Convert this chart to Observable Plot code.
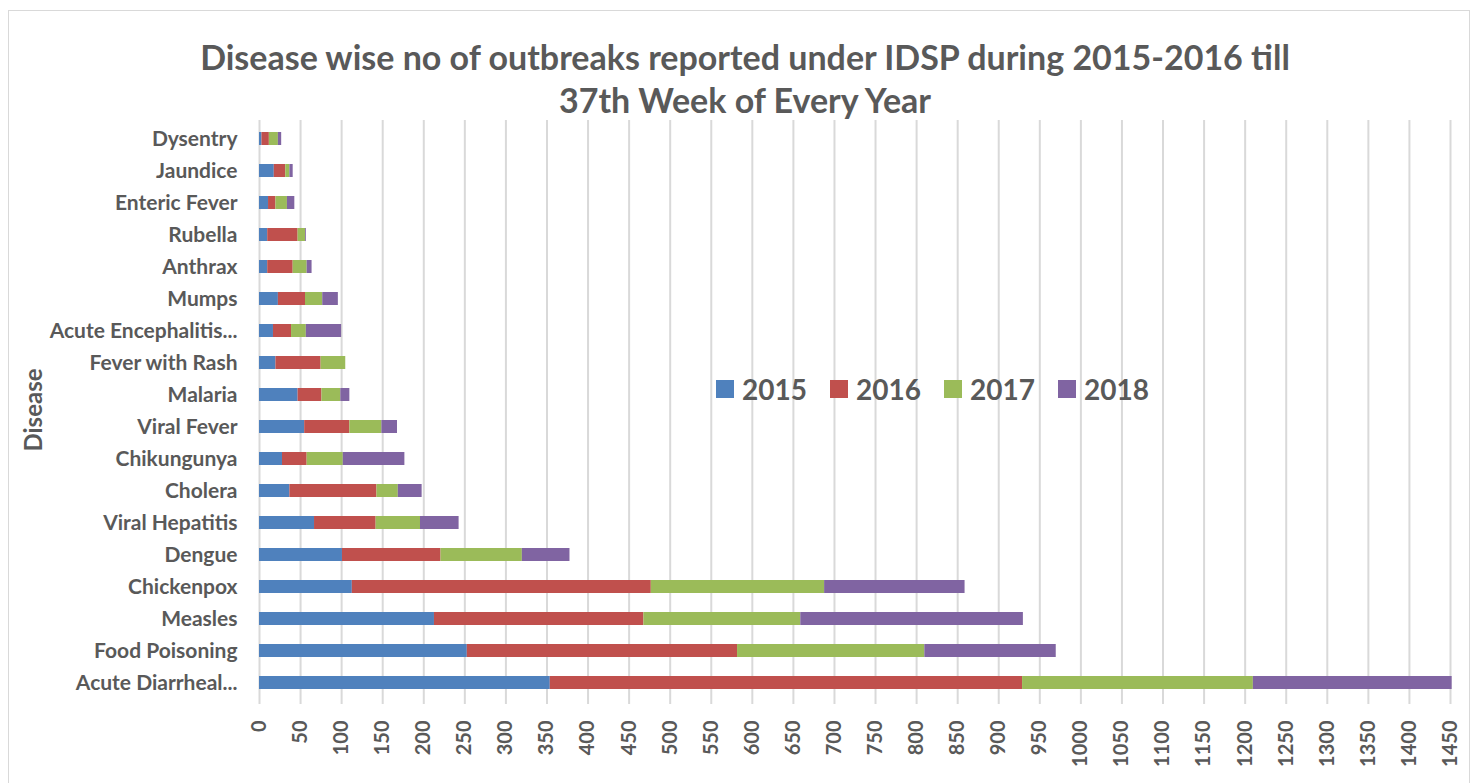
<!DOCTYPE html>
<html>
<head>
<meta charset="utf-8">
<script src="https://cdn.jsdelivr.net/npm/d3@7"></script>
<script src="https://cdn.jsdelivr.net/npm/@observablehq/plot@0.6"></script>
<style>
  body { margin: 0; background: #fff; font-family: Lato, "Open Sans", sans-serif; }
  #wrap { position: relative; width: 1476px; height: 783px; overflow: hidden; }
  #chart { position: absolute; left: 0; top: 0; }
  #frame { position: absolute; left: 8px; top: 10px; width: 1460px; height: 780px; border: 1px solid #d9d9d9; pointer-events: none; }
  #title { position: absolute; left: 0; top: 35px; width: 1490px; text-align: center; font-weight: bold; font-size: 34px; line-height: 43px; color: #595959; }
  #ylabel { position: absolute; left: 32px; top: 410px; transform: translate(-50%, -50%) rotate(-90deg); font-weight: bold; font-size: 24px; color: #595959; white-space: nowrap; }
  #legend { position: absolute; left: 716px; top: 372px; display: flex; font-weight: bold; font-size: 28px; color: #595959; }
  .item { display: flex; align-items: center; width: 114px; }
  .sw { width: 18px; height: 18px; margin-right: 8px; }
</style>
</head>
<body>
<div id="wrap">
  <div id="chart"></div>
  <div id="frame"></div>
  <div id="title">Disease wise no of outbreaks reported under IDSP during 2015-2016 till<br>37th Week of Every Year</div>
  <div id="ylabel">Disease</div>
  <div id="legend"></div>
</div>
<script>
const diseases = ["Dysentry", "Jaundice", "Enteric Fever", "Rubella", "Anthrax", "Mumps", "Acute Encephalitis...", "Fever with Rash", "Malaria", "Viral Fever", "Chikungunya", "Cholera", "Viral Hepatitis", "Dengue", "Chickenpox", "Measles", "Food Poisoning", "Acute Diarrheal..."];
const years = ["2015", "2016", "2017", "2018"];
const v2015 = [3, 18, 11, 10, 10, 23, 17, 20, 47, 55, 28, 37, 67, 101, 113, 213, 253, 354];
const v2016 = [9, 14, 9, 37, 31, 33, 22, 55, 29, 55, 30, 106, 75, 120, 364, 255, 329, 575];
const v2017 = [11, 5, 14, 9, 17, 21, 18, 30, 23, 39, 44, 26, 54, 99, 211, 191, 228, 281];
const v2018 = [4, 4, 9, 1, 6, 19, 43, 0, 11, 19, 75, 29, 47, 58, 171, 271, 160, 242];
const colors = ["#4F81BD", "#C0504D", "#9BBB59", "#8064A2"];
const xTicks = d3.range(0, 1451, 50);

const series = [v2015, v2016, v2017, v2018];
const data = [];
years.forEach((yr, j) => diseases.forEach((d, i) => data.push({disease: d, year: yr, value: series[j][i]})));

const chart = Plot.plot({
  width: 1476,
  height: 783,
  marginTop: 120,
  marginBottom: 83,
  marginLeft: 259,
  marginRight: 26,
  style: {fontFamily: "Lato, 'Open Sans', sans-serif", background: "transparent"},
  x: {domain: [0, 1450], label: null},
  y: {domain: diseases, paddingInner: 0.6, paddingOuter: 0.31, label: null},
  color: {domain: years, range: colors},
  marks: [
    Plot.gridX(xTicks, {stroke: "#d9d9d9", strokeOpacity: 1, strokeWidth: 2}),
    Plot.barX(data, Plot.stackX({x: "value", y: "disease", fill: "year", order: years})),
    Plot.axisX({ticks: xTicks, tickSize: 4, tickFormat: () => "", color: "#d9d9d9", strokeWidth: 2, label: null}),
    Plot.axisX({ticks: xTicks, tickSize: 0, tickPadding: 20, tickRotate: -90, tickFormat: d3.format("d"), fontSize: 20, fontWeight: "bold", color: "#595959", label: null}),
    Plot.axisY({tickSize: 0, tickPadding: 22, fontSize: 21, fontWeight: "bold", color: "#595959", label: null})
  ]
});
document.getElementById("chart").appendChild(chart);

const legend = document.getElementById("legend");
years.forEach((yr, i) => {
  const it = document.createElement("div");
  it.className = "item";
  const sw = document.createElement("div");
  sw.className = "sw";
  sw.style.background = colors[i];
  const t = document.createElement("span");
  t.textContent = yr;
  it.appendChild(sw);
  it.appendChild(t);
  legend.appendChild(it);
});
</script>
</body>
</html>
